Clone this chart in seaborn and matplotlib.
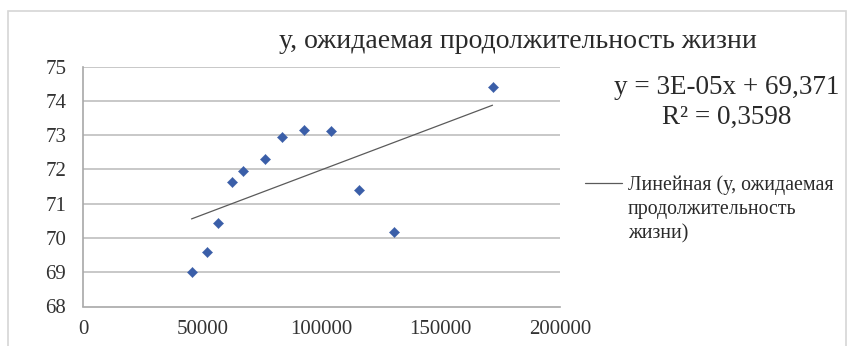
import numpy as np
import pandas as pd
import matplotlib
matplotlib.use("Agg")
import matplotlib.pyplot as plt
from matplotlib.lines import Line2D
from matplotlib.patches import Rectangle
from matplotlib.ticker import FuncFormatter
import seaborn as sns

# Доход (x) и ожидаемая продолжительность жизни (y)
income = [45500, 51800, 56400, 62500, 67200, 76300, 83600, 92800, 104100, 115600, 130300, 171700]
life_exp = [69.00, 69.59, 70.45, 71.62, 71.96, 72.30, 72.95, 73.16, 73.11, 71.40, 70.18, 74.42]

title = "у, ожидаемая продолжительность жизни"
eq_text = "y = 3E-05x + 69,371"
r2_text = "R² = 0,3598"
legend_lines = ["Линейная (у, ожидаемая", "продолжительность", "жизни)"]

x_ticks = [0, 50000, 100000, 150000, 200000]
y_ticks = [68, 69, 70, 71, 72, 73, 74, 75]

df = pd.DataFrame({"x": income, "y": life_exp})

sns.set_theme(style="white")
plt.rcParams["font.family"] = ["Liberation Serif", "DejaVu Serif"]

W, H = 850, 346
fig = plt.figure(figsize=(W / 100, H / 100), dpi=100)
fig.patch.set_facecolor("white")

# рамка области диаграммы
fig.patches.append(Rectangle((8 / W, -0.05), (846 - 8) / W, 1.05 - 11 / H,
                             transform=fig.transFigure, fill=False,
                             edgecolor="#d6d6d6", lw=1.2, zorder=0))

ax = fig.add_axes([83 / W, 39.5 / H, (560 - 83) / W, (306.5 - 66.7) / H])
ax.set_facecolor("white")

for yv in y_ticks[1:]:
    ax.axhline(yv, color="#c4c4c4", lw=1.3, zorder=1)

sns.regplot(data=df, x="x", y="y", scatter=False, ci=None, ax=ax,
            line_kws={"color": "#5a5a5a", "lw": 0.9, "zorder": 2})
sns.scatterplot(data=df, x="x", y="y", ax=ax, marker="D", s=27,
                color="#3a5ea8", edgecolor="#3a5ea8", linewidth=0.3, zorder=3)

ax.set_xlim(0, 200000)
ax.set_ylim(68, 75)
ax.set_xticks(x_ticks)
ax.set_yticks(y_ticks)
ax.xaxis.set_major_formatter(FuncFormatter(lambda v, p: f"{int(v)}"))
ax.set_xlabel("")
ax.set_ylabel("")

for s in ["top", "right"]:
    ax.spines[s].set_visible(False)
for s in ["left", "bottom"]:
    ax.spines[s].set_color("#a8a8a8")
    ax.spines[s].set_linewidth(1.2)

ax.tick_params(axis="both", direction="out", width=1.0,
               color="#a8a8a8", labelsize=15, labelcolor="#333333")
ax.tick_params(axis="y", length=7, pad=5)
ax.tick_params(axis="x", length=4.5, pad=5)

fig.text(518 / W, 1 - 41 / H, title, ha="center", va="center",
         fontsize=20, color="#2a2a2a")
fig.text(727 / W, 1 - 88 / H, eq_text, ha="center", va="center",
         fontsize=19.5, color="#2a2a2a")
fig.text(727 / W, 1 - 117 / H, r2_text, ha="center", va="center",
         fontsize=19.5, color="#2a2a2a")

fig.lines.append(Line2D([585 / W, 622 / W], [1 - 183 / H, 1 - 183 / H],
                        transform=fig.transFigure, color="#5a5a5a", lw=0.9))
for i, t in enumerate(legend_lines):
    fig.text(628 / W, 1 - (185 + 24.5 * i) / H, t, ha="left", va="center",
             fontsize=14.3, color="#2a2a2a")

fig.savefig("out.png", dpi=100, facecolor="white")
